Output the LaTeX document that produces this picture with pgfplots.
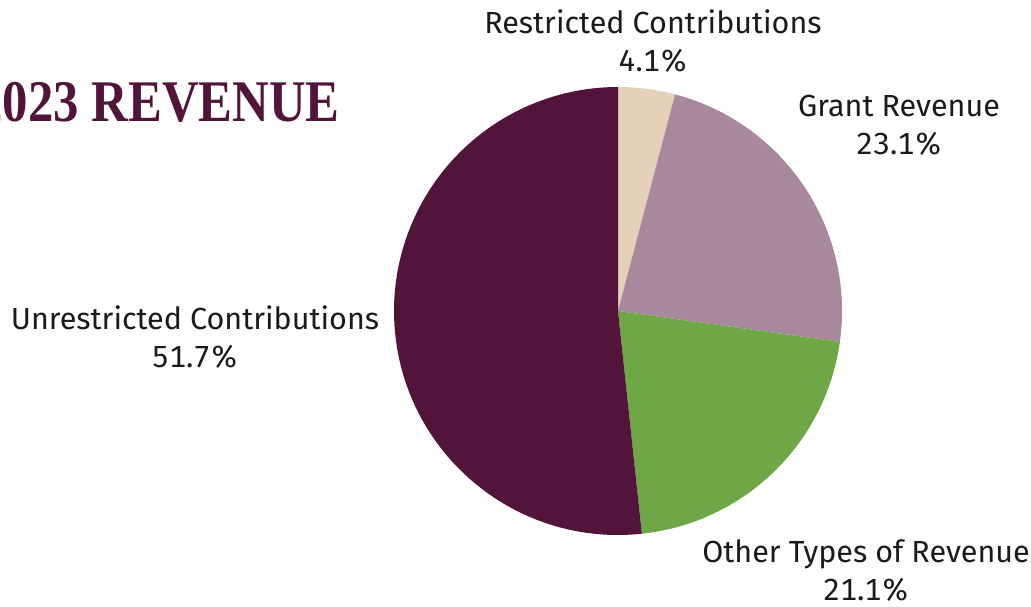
\documentclass[border=0pt]{standalone}
\usepackage{fontspec}
\setmainfont{Fira Sans}[Numbers=Monospaced]
\newfontfamily\titlefont{Liberation Serif}
\usepackage{graphicx}
\usepackage{pgfplots}
\pgfplotsset{compat=1.18}
\definecolor{restr}{HTML}{E3D1BA}
\definecolor{grant}{HTML}{A7889D}
\definecolor{other}{HTML}{6EA846}
\definecolor{unres}{HTML}{52143A}
\definecolor{lbl}{HTML}{1A1A1A}

\begin{document}
\begin{tikzpicture}
\clip (0pt,0pt) rectangle (1031pt,607pt);
\begin{axis}[hide axis, scale only axis, width=448pt, height=448pt,
  xmin=-1, xmax=1, ymin=-1, ymax=1, axis equal image,
  anchor=center, at={(618pt,296pt)}, clip=false]
% shares in percent, clockwise from 12 o'clock
\fill[restr] (0,0) -- (90:1) arc[start angle=90, delta angle=-3.6*4.1, radius=1] -- cycle;
\fill[grant] (0,0) -- ({90-3.6*4.1}:1) arc[start angle={90-3.6*4.1}, delta angle=-3.6*23.1, radius=1] -- cycle;
\fill[other] (0,0) -- ({90-3.6*27.2}:1) arc[start angle={90-3.6*27.2}, delta angle=-3.6*21.1, radius=1] -- cycle;
\fill[unres] (0,0) -- ({90-3.6*48.3}:1) arc[start angle={90-3.6*48.3}, delta angle=-3.6*51.7, radius=1] -- cycle;
\end{axis}
\node[anchor=base east, inner sep=0, text=unres, font=\titlefont\bfseries\fontsize{59}{62}\selectfont] at (340pt,485pt) {\scalebox{0.86}[1]{2023 REVENUE}};
\begin{scope}[every node/.style={align=center, inner sep=0, text=lbl, font=\fontsize{30.5}{38}\selectfont}]
\node at (653pt,566pt) {Restricted Contributions\\4.1\%};
\node at (899pt,482pt) {Grant Revenue\\23.1\%};
\node at (195pt,270pt) {Unrestricted Contributions\\51.7\%};
\node at (866pt,36pt) {Other Types of Revenue\\21.1\%};
\end{scope}
\end{tikzpicture}
\end{document}
